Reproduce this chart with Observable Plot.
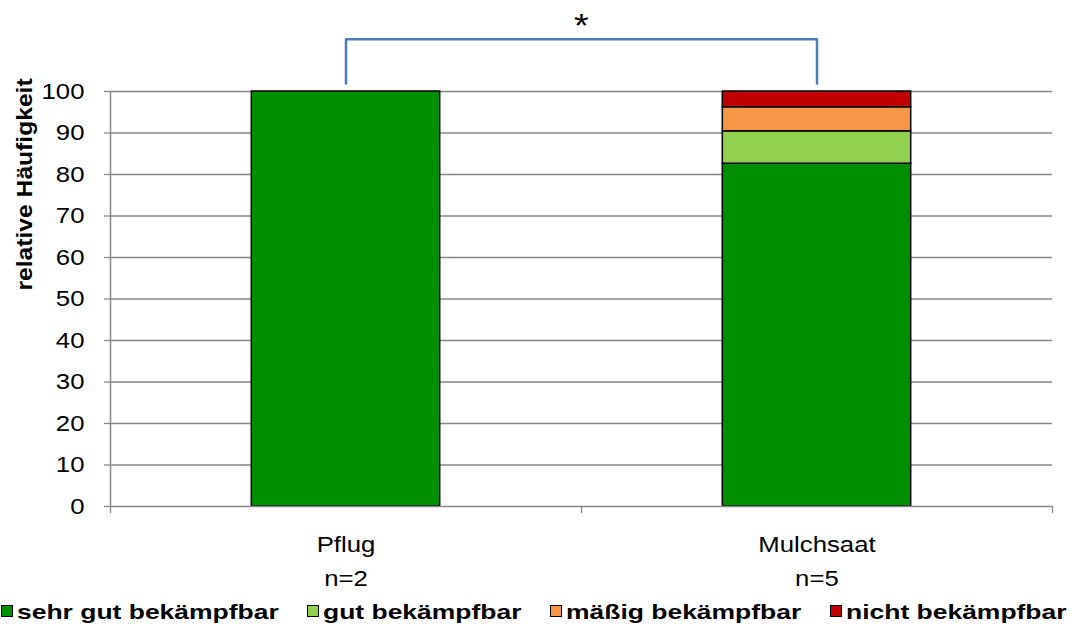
<!DOCTYPE html>
<html><head><meta charset="utf-8">
<script src="https://cdn.jsdelivr.net/npm/d3@7"></script>
<script src="https://cdn.jsdelivr.net/npm/@observablehq/plot@0.6"></script>
<style>
html,body{margin:0;padding:0;background:#fff;overflow:hidden;width:1070px;height:625px}
#chart svg{display:block}
#legend{height:35px;box-sizing:border-box;padding-top:10px;padding-left:1px;display:flex;align-items:flex-start;font-family:"Liberation Sans",Arial,sans-serif;font-weight:bold;font-size:21px;line-height:24px;white-space:nowrap;color:#000}
#legend .item{display:flex;align-items:flex-start;margin-right:28px}
#legend .sw{width:10px;height:10px;border:1px solid #000;margin-top:5px;margin-right:4px;flex:none}
#legend .lab{display:inline-block;overflow:visible}
#legend .lab span{display:inline-block;transform-origin:left center}
</style>
</head><body>
<div id="chart"></div>
<div id="legend"></div>
<script>
// ---- data ----
const categories = ["Pflug", "Mulchsaat"];
const sampleSizes = [2, 5];
const classes = ["sehr gut bekämpfbar", "gut bekämpfbar", "mäßig bekämpfbar", "nicht bekämpfbar"];
const classColors = ["#008f00", "#92d050", "#f79646", "#c00000"];
const pflugShares = [100, 0, 0, 0];
const mulchsaatShares = [82.6, 7.8, 5.8, 3.8];
const yTicks = [0, 10, 20, 30, 40, 50, 60, 70, 80, 90, 100];
const yLabel = "relative Häufigkeit";
const sigLabel = "*";
const bracketLevels = [101.9, 112.6, 112.6, 101.9];
const sigLevel = 115.8;

// ---- build tables ----
const shares = [pflugShares, mulchsaatShares];
const rows = categories.flatMap((c, i) => classes.map((cls, j) => ({i, cat: c, cls, value: shares[i][j]})))
  .filter(d => d.value > 0);
const barWidth = 0.4;
const center = i => i + 0.5;
const bracket = [0, 0, 1, 1].map((i, k) => ({x: center(i), y: bracketLevels[k]}));
const FONT = '"Liberation Sans", Arial, sans-serif';
const GRAY = "#868686";

const chart = Plot.plot({
  width: 1070,
  height: 590,
  marginLeft: 110,
  marginRight: 18,
  marginTop: 91,
  marginBottom: 84,
  style: {fontFamily: FONT, fontSize: "23px", color: "#000", background: "#fff"},
  x: {type: "linear", domain: [0, categories.length], label: null},
  y: {domain: [0, 100], label: null},
  color: {domain: classes, range: classColors},
  marks: [
    Plot.ruleY(yTicks.filter(t => t > 0), {stroke: GRAY, strokeWidth: 1.3}),
    Plot.rectY(rows, Plot.stackY({
      x1: d => center(d.i) - barWidth / 2,
      x2: d => center(d.i) + barWidth / 2,
      y: "value", fill: "cls", stroke: "#000", strokeWidth: 1.5
    })),
    Plot.ruleX([0], {y1: 0, y2: 100, stroke: GRAY, strokeWidth: 1.5}),
    Plot.ruleY([0], {stroke: GRAY, strokeWidth: 1.5}),
    Plot.axisY({ticks: yTicks, tickSize: 6, tickPadding: 20, stroke: GRAY, strokeWidth: 1.3, fontSize: 23, tickFormat: d => String(d), label: null}),
    Plot.axisX({ticks: d3.range(categories.length + 1), tickSize: 7, tickFormat: () => "", stroke: GRAY, strokeWidth: 1.3, label: null}),
    Plot.axisX({ticks: categories.map((c, i) => center(i)), tickSize: 0, tickPadding: 22, lineHeight: 1.45, fontSize: 23,
      tickFormat: v => { const i = Math.floor(v); return categories[i] + "\nn=" + sampleSizes[i]; }, label: null}),
    Plot.line(bracket, {x: "x", y: "y", stroke: "#4a7ebb", strokeWidth: 2.5}),
    Plot.text([sigLabel], {x: categories.length / 2, y: sigLevel, fontSize: 34}),
    Plot.text([yLabel], {frameAnchor: "left", rotate: -90, dx: -86, dy: -8.5, fontWeight: "bold", fontSize: 22})
  ]
});
document.getElementById("chart").append(chart);

// widen glyphs along their reading direction, as in the reference
const STRETCH = 1.12;
chart.querySelectorAll("text").forEach(el => {
  const bb = el.getBBox();
  if (!bb.width) return;
  const anchor = getComputedStyle(el).textAnchor;
  const ax = anchor === "middle" ? bb.x + bb.width / 2 : anchor === "end" ? bb.x + bb.width : bb.x;
  const t = el.getAttribute("transform") || "";
  el.setAttribute("transform", `${t} translate(${ax},0) scale(${STRETCH},1) translate(${-ax},0)`);
});

// legend
const LSTRETCH = 1.26;
const legend = document.getElementById("legend");
classes.forEach((cls, j) => {
  const item = document.createElement("div");
  item.className = "item";
  const sw = document.createElement("div");
  sw.className = "sw";
  sw.style.background = classColors[j];
  const lab = document.createElement("div");
  lab.className = "lab";
  const span = document.createElement("span");
  span.textContent = cls;
  lab.append(span);
  item.append(sw, lab);
  legend.append(item);
  const w = span.offsetWidth;
  lab.style.width = (w * LSTRETCH) + "px";
  span.style.transform = `scaleX(${LSTRETCH})`;
});
</script>
</body></html>
